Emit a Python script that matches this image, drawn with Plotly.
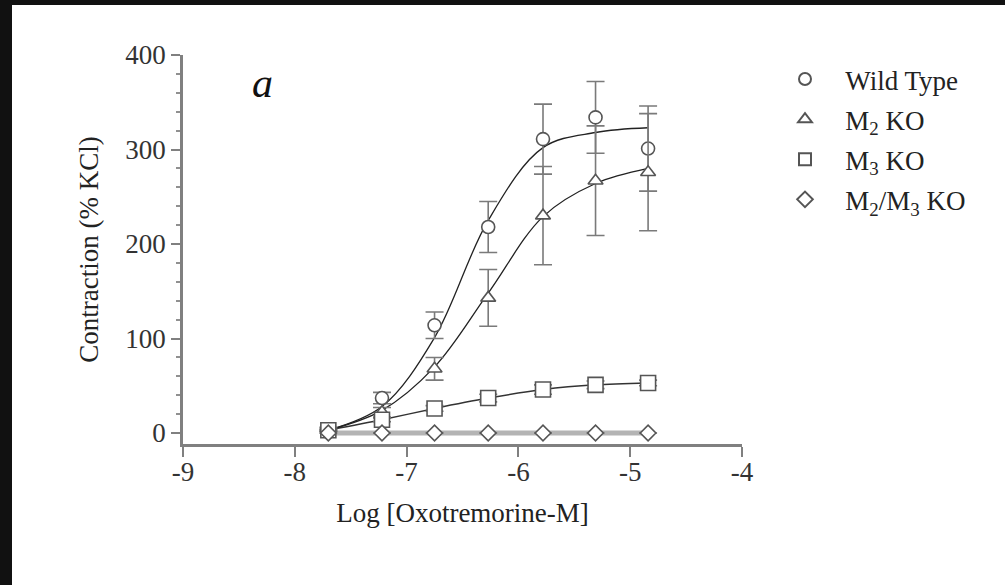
import plotly.graph_objects as go

# ---- data ----
log_conc = [-7.7, -7.22, -6.75, -6.27, -5.78, -5.31, -4.84]

wt_mean = [4, 37, 114, 218, 311, 334, 301]
wt_err = [2, 6, 14, 27, 37, 38, 45]
wt_fit = [3, 28, 101, 225, 302, 318, 323]

m2_mean = [3, 22, 68, 143, 230, 267, 276]
m2_err = [1, 5, 12, 30, 52, 58, 62]
m2_fit = [3, 24, 70, 148, 229, 264, 280]

m3_mean = [3, 14, 26, 37, 46, 51, 53]
m3_err = [1, 2, 3, 4, 5, 4, 3]

dko_mean = [0, 0, 0, 0, 0, 0, 0]
dko_err = [0, 0, 0, 0, 0, 0, 0]

series_names = ["Wild Type", "M<sub>2</sub> KO", "M<sub>3</sub> KO", "M<sub>2</sub>/M<sub>3</sub> KO"]
x_ticks = [-9, -8, -7, -6, -5, -4]
y_ticks = [0, 100, 200, 300, 400]

FONT = "Liberation Serif"
W, H = 1005, 585
ML, MR, MT, MB = 183, 263, 55, 141
GAP = "\u00a0\u00a0\u00a0"  # extra space between legend symbol and text

fig = go.Figure()

# lines (fits / connecting curves)
fig.add_trace(go.Scatter(x=log_conc, y=dko_mean, mode="lines", showlegend=False,
                         line=dict(color="#b4b4b4", width=5), hoverinfo="skip"))
fig.add_trace(go.Scatter(x=log_conc, y=m3_mean, mode="lines", showlegend=False,
                         line=dict(color="#333333", width=1.5, shape="spline", smoothing=0.8),
                         hoverinfo="skip"))
fig.add_trace(go.Scatter(x=log_conc, y=wt_fit, mode="lines", showlegend=False,
                         line=dict(color="#222222", width=1.3, shape="spline", smoothing=1.0),
                         hoverinfo="skip"))
fig.add_trace(go.Scatter(x=log_conc, y=m2_fit, mode="lines", showlegend=False,
                         line=dict(color="#222222", width=1.3, shape="spline", smoothing=1.0),
                         hoverinfo="skip"))

marker_specs = [
    (wt_mean, wt_err, "circle", 13),
    (m2_mean, m2_err, "triangle-up", 13),
    (m3_mean, m3_err, "square", 15),
    (dko_mean, dko_err, "diamond", 12),
]
for i, (name, (ys, es, sym, sz)) in enumerate(zip(series_names, marker_specs)):
    fig.add_trace(go.Scatter(
        x=log_conc, y=ys, mode="markers", name=GAP + name, legendgroup=f"g{i}",
        marker=dict(symbol=sym, size=sz, color="white",
                    line=dict(color="#555555", width=1.6)),
        error_y=dict(type="data", array=es, visible=True, color="#7a7a7a",
                     thickness=1.6, width=9),
    ))

# figure border (black bands at top and left edges of the picture)
pw, ph = W - ML - MR, H - MT - MB
def px_to_paper_x(px):
    return (px - ML) / pw
def px_to_paper_y(py):
    return (H - MB - py) / ph

fig.add_shape(type="rect", xref="paper", yref="paper",
              x0=px_to_paper_x(0), x1=px_to_paper_x(12),
              y0=px_to_paper_y(H), y1=px_to_paper_y(0),
              fillcolor="#111111", line=dict(width=0), layer="above")
fig.add_shape(type="rect", xref="paper", yref="paper",
              x0=px_to_paper_x(0), x1=px_to_paper_x(W),
              y0=px_to_paper_y(5), y1=px_to_paper_y(0),
              fillcolor="#111111", line=dict(width=0), layer="above")

fig.add_annotation(text="<i>a</i>", xref="paper", yref="paper",
                   x=px_to_paper_x(250), y=px_to_paper_y(58),
                   showarrow=False, font=dict(family=FONT, size=42, color="#111111"))

fig.update_layout(
    width=W, height=H,
    margin=dict(l=ML, r=MR, t=MT, b=MB, autoexpand=False),
    paper_bgcolor="white", plot_bgcolor="white",
    font=dict(family=FONT, size=26, color="#222222"),
    legend=dict(x=px_to_paper_x(785), y=px_to_paper_y(55), xanchor="left", yanchor="top",
                font=dict(family=FONT, size=27, color="#222222"),
                bgcolor="rgba(0,0,0,0)", tracegroupgap=2, itemsizing="constant"),
    xaxis=dict(range=[-9, -4], tickvals=x_ticks, ticktext=[str(v) for v in x_ticks],
               showgrid=False, zeroline=False, showline=True, linecolor="#808080",
               linewidth=2.5, ticks="outside", ticklen=10, tickwidth=2, tickcolor="#808080",
               ticklabelstandoff=-8,
               tickfont=dict(family=FONT, size=27, color="#333333"),
               title=dict(text="Log [Oxotremorine-M]", standoff=17,
                          font=dict(family=FONT, size=27, color="#222222"))),
    yaxis=dict(range=[-11.6, 400], tickvals=y_ticks, ticktext=[str(v) for v in y_ticks],
               showgrid=False, zeroline=False, showline=True, linecolor="#808080",
               linewidth=2.5, ticks="outside", ticklen=9, tickwidth=2, tickcolor="#808080",
               minor=dict(dtick=20, ticks="outside", ticklen=4, tickwidth=2, tickcolor="#909090"),
               tickfont=dict(family=FONT, size=27, color="#333333"),
               title=dict(text="Contraction (% KCl)", standoff=19,
                          font=dict(family=FONT, size=27, color="#222222"))),
)

fig.write_html("out.html", config={"displayModeBar": False},
               post_script="document.body.style.margin='0';")
